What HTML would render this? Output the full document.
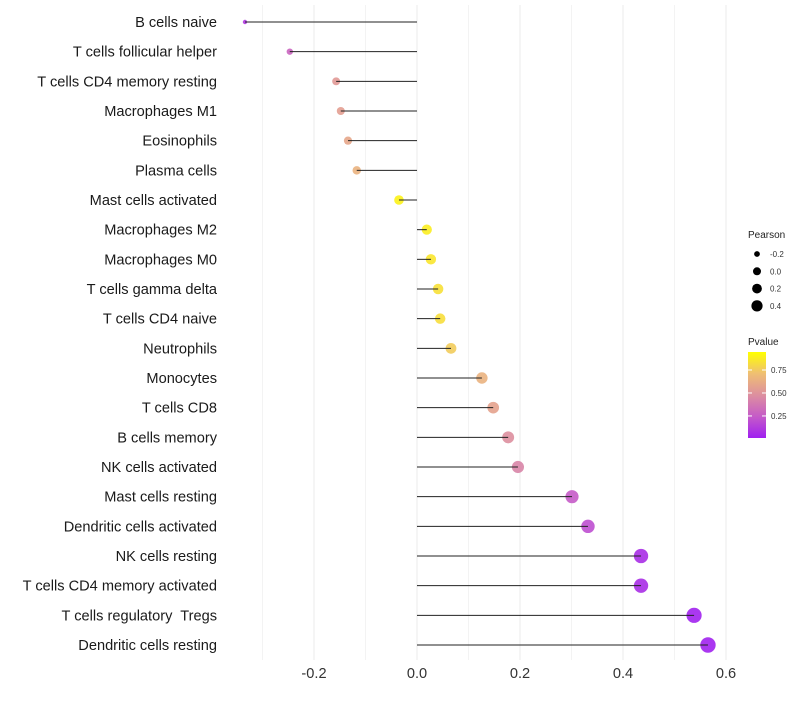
<!DOCTYPE html>
<html><head><meta charset="utf-8"><style>
body{margin:0;background:#fff;font-family:"Liberation Sans",sans-serif}
text{white-space:pre}
</style></head><body>
<svg id="c" width="800" height="700"></svg>
<script>
const cats=["B cells naive","T cells follicular helper","T cells CD4 memory resting","Macrophages M1","Eosinophils","Plasma cells","Mast cells activated","Macrophages M2","Macrophages M0","T cells gamma delta","T cells CD4 naive","Neutrophils","Monocytes","T cells CD8","B cells memory","NK cells activated","Mast cells resting","Dendritic cells activated","NK cells resting","T cells CD4 memory activated","T cells regulatory  Tregs ","Dendritic cells resting"];
const pearson=[-0.334,-0.247,-0.157,-0.148,-0.134,-0.117,-0.035,0.019,0.027,0.041,0.045,0.066,0.126,0.148,0.177,0.196,0.301,0.332,0.435,0.435,0.538,0.565];
const pvalue=[0.1,0.3,0.55,0.58,0.62,0.68,0.95,0.93,0.9,0.88,0.87,0.8,0.68,0.6,0.5,0.45,0.25,0.2,0.06,0.06,0.01,0.01];
const xTicks=[-0.2,0,0.2,0.4,0.6];
const xTickLabels=["-0.2","0.0","0.2","0.4","0.6"];
const sizeLegend=[-0.2,0,0.2,0.4];
const colorLegend=[0.25,0.5,0.75];

const NS="http://www.w3.org/2000/svg";
const svg=document.getElementById('c');
function mk(t,a,p){const e=document.createElementNS(NS,t);for(const k in a)e.setAttribute(k,a[k]);(p||svg).appendChild(e);return e;}
const x=v=>417+v*515;
const y=i=>22+i*(623/21);
const r=v=>1.1*Math.sqrt(Math.max(2,20.7+50*v));
const stops=[[160,32,240],[197,91,200],[221,143,159],[239,191,115],[255,255,0]];
function col(p){p=Math.max(0,Math.min(1,p))*4;const i=Math.min(3,Math.floor(p)),f=p-i;const c=stops[i].map((s,k)=>Math.round(s+(stops[i+1][k]-s)*f));return `rgb(${c})`;}
for(let k=-3;k<=6;k++){
  const g=k/10;
  const gl=mk('line',{x1:x(g),x2:x(g),y1:5,y2:660,stroke:(k%2===0)?'#ebebeb':'#f3f3f3','stroke-width':1});
  
  
}
xTicks.forEach((t,i)=>{
  const tx=mk('text',{x:x(t),y:678,'text-anchor':'middle','font-size':14.6,fill:'#333'});
  tx.textContent=xTickLabels[i];
  
  
});
cats.forEach((c,i)=>{
  const lb=mk('text',{x:217,y:y(i)+5,'text-anchor':'end','font-size':14.6,fill:'#1a1a1a'});
  lb.textContent=c.replace(/ $/,'');
  
  
  const pt=mk('circle',{cx:x(pearson[i]),cy:y(i),r:r(pearson[i]),fill:col(pvalue[i]),'fill-opacity':0.9});
  
  
  const ln=mk('line',{x1:x(0),x2:x(pearson[i]),y1:y(i),y2:y(i),stroke:'#222','stroke-width':1});
  
  
});
const t1=mk('text',{x:748,y:238,'font-size':10,fill:'#222'});t1.textContent='Pearson';


sizeLegend.forEach((v,i)=>{
  const cy=254+i*17.3;
  const c=mk('circle',{cx:757,cy:cy,r:r(v)*0.8,fill:'#000'});
  
  
  const t=mk('text',{x:770,y:cy+3,'font-size':8,fill:'#333'});t.textContent=v.toFixed(1);
  
  
});
const t2=mk('text',{x:748,y:345,'font-size':10,fill:'#222'});t2.textContent='Pvalue';


const defs=mk('defs',{});const lg=mk('linearGradient',{id:'g',x1:0,y1:1,x2:0,y2:0},defs);
stops.forEach((s,i)=>mk('stop',{offset:i/4,'stop-color':`rgb(${s})`},lg));
const barTop=352,barBot=438,p2y=p=>barBot-(p-0.01)/(0.946-0.01)*(barBot-barTop);
const bar=mk('rect',{x:748,y:barTop,width:18,height:barBot-barTop,fill:'url(#g)'});


colorLegend.forEach(p=>{
  const t=mk('text',{x:771,y:p2y(p)+3,'font-size':8,fill:'#333'});t.textContent=p.toFixed(2);
  
  
  mk('line',{x1:748,x2:752,y1:p2y(p),y2:p2y(p),stroke:'#fff'});
  mk('line',{x1:762,x2:766,y1:p2y(p),y2:p2y(p),stroke:'#fff'});
});
</script>
</body></html>
